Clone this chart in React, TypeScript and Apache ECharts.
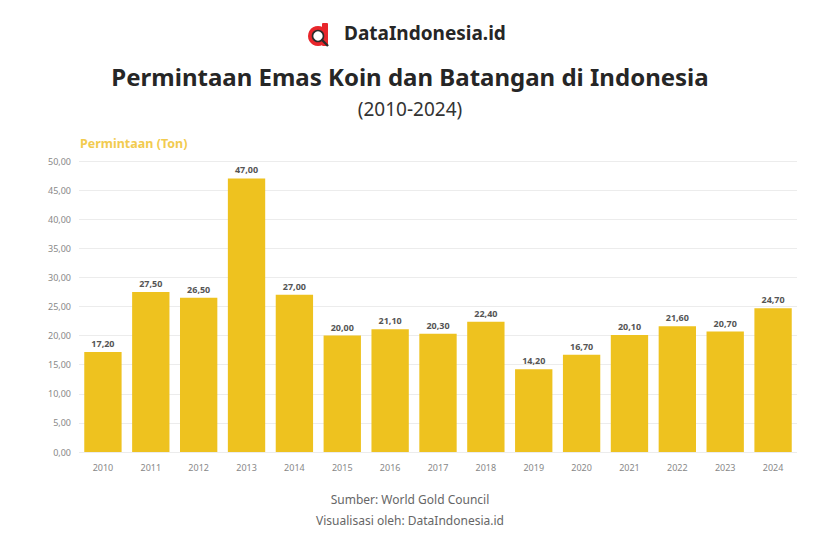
import React, { useEffect, useRef } from "react";
import * as echarts from "echarts";

const years = ["2010","2011","2012","2013","2014","2015","2016","2017","2018","2019","2020","2021","2022","2023","2024"];
const demand = [17.2, 27.5, 26.5, 47.0, 27.0, 20.0, 21.1, 20.3, 22.4, 14.2, 16.7, 20.1, 21.6, 20.7, 24.7];
const yTicksMax = 50;
const yTickStep = 5;

const fmt = (v: number) => v.toFixed(2).replace(".", ",");

export default function App() {
  const ref = useRef<HTMLDivElement>(null);
  useEffect(() => {
    document.body.style.margin = "0";
    if (!ref.current) return;
    const chart = echarts.init(ref.current, undefined, { renderer: "svg" });
    const font = "'Noto Sans', 'Open Sans', sans-serif";
    chart.setOption({
      animation: false,
      backgroundColor: "#ffffff",
      textStyle: { fontFamily: font },
      title: [
        {
          text: "Permintaan Emas Koin dan Batangan di Indonesia",
          left: "center",
          top: 59,
          textStyle: { fontSize: 24, fontWeight: "bold", color: "#262626", fontFamily: font },
        },
        {
          text: "(2010-2024)",
          left: "center",
          top: 94,
          textStyle: { fontSize: 19, fontWeight: "normal", color: "#333333", fontFamily: font },
        },
      ],
      graphic: [
        {
          type: "group",
          left: 308,
          top: 23,
          children: [
            { type: "circle", shape: { cx: 10, cy: 13, r: 10 }, style: { fill: "#E8262B" } },
            { type: "rect", shape: { x: 14, y: 0, width: 6, height: 23, r: 1 }, style: { fill: "#E8262B" } },
            { type: "circle", shape: { cx: 10, cy: 13, r: 5.5 }, style: { fill: "#ffffff", stroke: "#2b2b2b", lineWidth: 1.6 } },
            { type: "line", shape: { x1: 14, y1: 17, x2: 20, y2: 23 }, style: { stroke: "#2b2b2b", lineWidth: 2.4 } },
          ],
        },
        {
          type: "text",
          left: 344,
          top: 23,
          style: { text: "DataIndonesia.id", fontSize: 19, fontWeight: "bold", fill: "#262626", fontFamily: font },
        },
        {
          type: "text",
          left: 80,
          top: 137,
          style: { text: "Permintaan (Ton)", fontSize: 12.5, fontWeight: "bold", fill: "#F2CB4F", fontFamily: font },
        },
        {
          type: "text",
          x: 410,
          y: 489,
          style: {
            text: "Sumber: World Gold Council\nVisualisasi oleh: DataIndonesia.id",
            textAlign: "center",
            fontSize: 12,
            lineHeight: 21,
            fill: "#666666",
            fontFamily: font,
          },
        },
      ],
      grid: { left: 79, right: 23, top: 161, bottom: 88 },
      xAxis: {
        type: "category",
        data: years,
        axisLine: { show: false },
        axisTick: { show: false },
        axisLabel: { color: "#888888", fontSize: 9, margin: 11 },
      },
      yAxis: {
        type: "value",
        min: 0,
        max: yTicksMax,
        interval: yTickStep,
        axisLine: { show: false },
        axisTick: { show: false },
        splitLine: { lineStyle: { color: "#ececec", width: 1 } },
        axisLabel: { color: "#888888", fontSize: 9, margin: 8, formatter: (v: number) => fmt(v) },
      },
      series: [
        {
          type: "bar",
          data: demand,
          barCategoryGap: "22%",
          itemStyle: { color: "#EEC21F" },
          label: {
            show: true,
            position: "top",
            distance: 4,
            color: "#555555",
            fontSize: 9,
            fontWeight: "bold",
            formatter: (p: any) => fmt(p.value),
          },
        },
      ],
    });
    return () => chart.dispose();
  }, []);
  return <div ref={ref} style={{ width: 820, height: 540 }} />;
}
